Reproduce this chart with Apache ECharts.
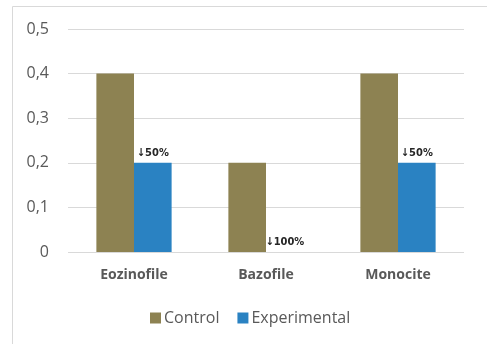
<!DOCTYPE html>
<html>
<head>
<meta charset="utf-8">
<script src="https://cdn.jsdelivr.net/npm/echarts@6/dist/echarts.min.js"></script>
<style>
  html, body { margin: 0; padding: 0; background: #fff; }
  #main { width: 487px; height: 344px; }
</style>
</head>
<body>
<div id="main"></div>
<script>
// 数据
var categories = ['Eozinofile', 'Bazofile', 'Monocite'];
var controlValues = [0.4, 0.2, 0.4];
var experimentalValues = [0.2, 0, 0.2];
var experimentalLabels = ['↓50%', '↓100%', '↓50%'];
var yTicks = [0, 0.1, 0.2, 0.3, 0.4, 0.5];

var chart = echarts.init(document.getElementById('main'));

var option = {
  animation: false,
  textStyle: { fontFamily: 'Open Sans' },
  graphic: [{
    type: 'rect',
    shape: { x: 12.5, y: 6.5, width: 500, height: 400 },
    style: { fill: 'none', stroke: '#d9d9d9', lineWidth: 1 },
    silent: true
  }],
  grid: { left: 68, right: 23, top: 29, bottom: 92 },
  legend: {
    left: 145,
    top: 305,
    itemWidth: 11,
    itemHeight: 11,
    itemGap: 18,
    icon: 'rect',
    textStyle: { color: '#595959', fontSize: 16, fontFamily: 'Open Sans', padding: [0, 0, 0, -2] },
    data: ['Control', 'Experimental']
  },
  xAxis: {
    type: 'category',
    data: categories,
    axisLine: { show: false },
    axisTick: { show: false },
    axisLabel: { color: '#595959', fontSize: 14, fontWeight: 'bold', margin: 16 }
  },
  yAxis: {
    type: 'value',
    min: 0,
    max: 0.5,
    interval: 0.1,
    axisLine: { show: false },
    axisTick: { show: false },
    splitLine: { lineStyle: { color: '#d9d9d9', width: 1 } },
    axisLabel: {
      color: '#595959',
      fontSize: 16,
      margin: 19,
      formatter: function (v) {
        var t = yTicks.find(function (x) { return Math.abs(x - v) < 1e-9; });
        return t === 0 ? '0' : String(+v.toFixed(1)).replace('.', ',');
      }
    }
  },
  series: [
    {
      name: 'Control',
      type: 'bar',
      data: controlValues,
      barGap: '0%',
      barCategoryGap: '43%',
      itemStyle: { color: '#8d8252' }
    },
    {
      name: 'Experimental',
      type: 'bar',
      data: experimentalValues,
      itemStyle: { color: '#2a82c2' },
      label: {
        show: true,
        position: 'top',
        distance: 4,
        color: '#262626',
        fontSize: 11,
        fontWeight: 'bold',
        fontFamily: 'DejaVu Sans Condensed',
        formatter: function (p) { return experimentalLabels[p.dataIndex]; }
      }
    }
  ]
};

chart.setOption(option);
</script>
</body>
</html>
